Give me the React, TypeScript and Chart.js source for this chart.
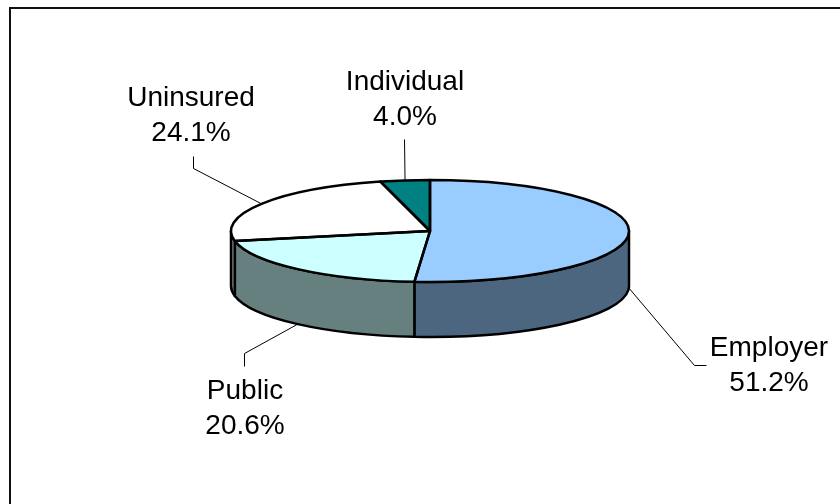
import React, { useEffect, useRef } from "react";
import { Chart, registerables } from "chart.js";

Chart.register(...registerables);

// ---- data ----
const CATEGORIES = ["Employer", "Public", "Uninsured", "Individual"];
const SHARES = [51.2, 20.6, 24.1, 4.0];

// ---- styles ----
const TOP_COLORS = ["#99CCFF", "#CCFFFF", "#FFFFFF", "#008080"];
const SIDE_COLORS = ["#4D6680", "#668080", "#808080", "#004040"];
const TILT = 51 / 199; // vertical squash of the pie top
const DEPTH = 55; // thickness of the pie, px
const FONT = '28px "Liberation Sans", Arial, sans-serif';
const LINE_GAP = 35;
const OUTLINE = 2.5;

// label layout: text centre x, first baseline y, leader elbow and end
const LABEL_LAYOUT = [
  { cx: 769, by: 356, elbow: [694, 365], end: [706, 365] },
  { cx: 245, by: 399, elbow: [244, 353], end: [244, 366] },
  { cx: 191, by: 106, elbow: [193, 168], end: [193, 156] },
  { cx: 405, by: 90, elbow: null, end: [404, 139] },
];

const pie3d = {
  id: "pie3d",
  beforeDraw(chart: any) {
    const ctx = chart.ctx;
    ctx.save();
    ctx.fillStyle = "#fff";
    ctx.fillRect(0, 0, chart.width, chart.height);
    ctx.strokeStyle = "#111";
    ctx.lineWidth = 2;
    ctx.strokeRect(10, 8, chart.width + 40, chart.height + 40);
    ctx.restore();
  },
  beforeDatasetsDraw(chart: any) {
    const ctx = chart.ctx;
    const arcs = chart.getDatasetMeta(0).data;
    const { x: cx, y: cy, outerRadius: rx } = arcs[0].getProps(["x", "y", "outerRadius"], true);
    const ry = rx * TILT;
    ctx.save();
    ctx.lineWidth = OUTLINE;
    ctx.strokeStyle = "#000";
    ctx.lineJoin = "round";
    arcs.forEach((arc: any, i: number) => {
      const { startAngle, endAngle } = arc.getProps(["startAngle", "endAngle"], true);
      const a = Math.max(startAngle, 0);
      const b = Math.min(endAngle, Math.PI);
      if (b <= a) return;
      ctx.beginPath();
      ctx.ellipse(cx, cy, rx, ry, 0, a, b);
      ctx.ellipse(cx, cy + DEPTH, rx, ry, 0, b, a, true);
      ctx.closePath();
      ctx.fillStyle = SIDE_COLORS[i];
      ctx.fill();
      ctx.stroke();
    });
    ctx.restore();
    ctx.save();
    ctx.translate(cx, cy);
    ctx.scale(1, TILT);
    ctx.translate(-cx, -cy);
  },
  afterDatasetsDraw(chart: any) {
    const ctx = chart.ctx;
    ctx.restore();
    const arcs = chart.getDatasetMeta(0).data;
    const { x: cx, y: cy, outerRadius: rx } = arcs[0].getProps(["x", "y", "outerRadius"], true);
    const ry = rx * TILT;
    ctx.save();
    ctx.lineWidth = OUTLINE;
    ctx.strokeStyle = "#000";
    ctx.lineJoin = "round";
    arcs.forEach((arc: any) => {
      const { startAngle, endAngle } = arc.getProps(["startAngle", "endAngle"], true);
      ctx.beginPath();
      ctx.moveTo(cx, cy);
      ctx.ellipse(cx, cy, rx, ry, 0, startAngle, endAngle);
      ctx.closePath();
      ctx.stroke();
    });
    // leader lines and labels
    ctx.lineWidth = 1;
    ctx.font = FONT;
    ctx.textAlign = "center";
    ctx.textBaseline = "alphabetic";
    arcs.forEach((arc: any, i: number) => {
      const { startAngle, endAngle } = arc.getProps(["startAngle", "endAngle"], true);
      const m = (startAngle + endAngle) / 2;
      const s = Math.sin(m);
      const px = cx + rx * Math.cos(m);
      const py = cy + ry * s + (s > 0 ? DEPTH : 0);
      const L = LABEL_LAYOUT[i];
      ctx.strokeStyle = "#000";
      ctx.beginPath();
      ctx.moveTo(px, py);
      if (L.elbow) ctx.lineTo(L.elbow[0] + 0.5, L.elbow[1] + 0.5);
      ctx.lineTo(L.end[0] + 0.5, L.end[1] + 0.5);
      ctx.stroke();
      ctx.fillStyle = "#000";
      ctx.fillText(CATEGORIES[i], L.cx, L.by);
      ctx.fillText(SHARES[i].toFixed(1) + "%", L.cx, L.by + LINE_GAP);
    });
    ctx.restore();
  },
};

export default function App() {
  const ref = useRef<HTMLCanvasElement | null>(null);
  useEffect(() => {
    if (!ref.current) return;
    const chart = new Chart(ref.current, {
      type: "pie",
      data: {
        labels: CATEGORIES,
        datasets: [
          {
            data: SHARES,
            backgroundColor: TOP_COLORS,
            borderWidth: 0,
            hoverOffset: 0,
          },
        ],
      },
      options: {
        responsive: false,
        animation: false,
        events: [],
        layout: { padding: { left: 231, right: 211, top: 32, bottom: 74 } },
        plugins: { legend: { display: false }, tooltip: { enabled: false }, title: { display: false } },
      },
      plugins: [pie3d],
    });
    return () => chart.destroy();
  }, []);
  return (
    <canvas
      ref={ref}
      width={840}
      height={504}
      style={{ position: "absolute", left: 0, top: 0, display: "block" }}
    />
  );
}
